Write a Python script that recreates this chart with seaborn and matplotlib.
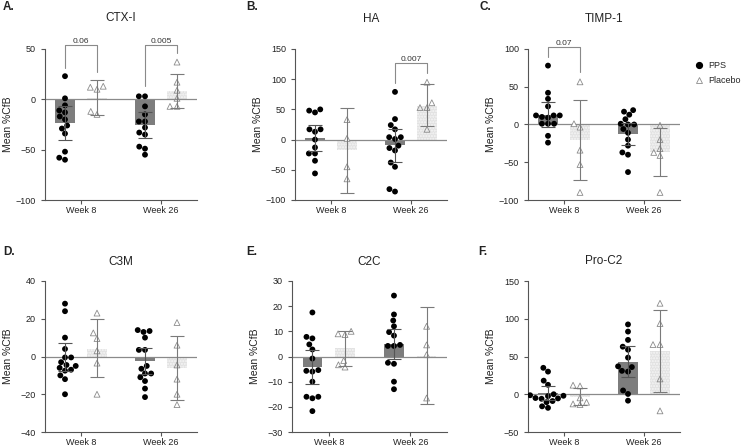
import numpy as np
import pandas as pd
import matplotlib
matplotlib.use("Agg")
import matplotlib.pyplot as plt
from matplotlib.lines import Line2D
import seaborn as sns

weeks = ["Week 8", "Week 26"]
groups = ["PPS", "Placebo"]

# A. CTX-I
ctx_pps_w8 = [23, 1, -6, -11, -13, -17, -20, -26, -29, -34, -52, -60, -58]
ctx_pla_w8 = [13, 10, 12, -12, -15]
ctx_pps_w26 = [3, 3, -7, -15, -22, -22, -28, -33, -35, -47, -49, -55]
ctx_pla_w26 = [37, 17, 9, 1, -7, -7]
ctx_mean_pps = [-24, -25.5]
ctx_mean_pla = [1.5, 8]
ctx_ci_pps = [(-40, -7), (-38, -13)]
ctx_ci_pla = [(-16, 19), (-9, 25.5)]

# B. HA
ha_pps_w8 = [48, 50, 45, 17, 17, 13, 0, -13, -23, -23, -35, -56]
ha_pla_w8 = [33, 2, -45, -65]
ha_pps_w26 = [79, 34, 24, 17, 4, 4, 1, -10, -14, -18, -38, -45, -86, -82]
ha_pla_w26 = [61, 95, 53, 53, 17]
ha_mean_pps = [2, -9]
ha_mean_pla = [-18, 55]
ha_ci_pps = [(-19, 24.5), (-37, 17)]
ha_ci_pla = [(-89, 53), (22, 92)]

# C. TIMP-1
timp_pps_w8 = [78, 42, 34, 24, 12, 12, 12, 10, 9, 1, 1, 1, -15, -24]
timp_pla_w8 = [56.5, 1, -3.5, -34, -53, -90]
timp_pps_w26 = [19, 17, 13, 7, 1, 0, 0, -6, -11, -20, -28, -40, -37, -63]
timp_pla_w26 = [-1, -20, -37, -32, -41, -90]
timp_mean_pps = [13, -12]
timp_mean_pla = [-20, -36]
timp_ci_pps = [(-3, 30), (-27, 2)]
timp_ci_pla = [(-74, 33), (-68, -5)]

# D. C3M
c3m_pps_w8 = [28, 24, 10, 4, -0.5, -0.5, -3, -5, -4.5, -7, -6, -7.5, -10, -12, -20]
c3m_pla_w8 = [23, 12.5, 9.5, 3, -3.5, -20]
c3m_pps_w26 = [13.5, 14, 13, 10, 3.5, 3.5, -5, -6.5, -9, -9, -11, -13, -17, -21.5]
c3m_pla_w26 = [18, 6, -4.5, -12, -20, -25.5]
c3m_mean_pps = [-0.3, -2.5]
c3m_mean_pla = [4, -6]
c3m_ci_pps = [(-7.5, 7), (-9.5, 4.5)]
c3m_ci_pla = [(-11, 20), (-23, 11)]

# E. C2C
c2c_pps_w8 = [17.5, 7.8, 7.2, 4.8, 2.8, -0.8, -5.7, -5.4, -6, -10, -16, -16.6, -16, -21.7]
c2c_pla_w8 = [10, 8.7, 9, -1.6, -4.2, -3.3]
c2c_pps_w26 = [24.2, 16.7, 14.3, 12, 9.7, 8.3, 4.6, 4.2, 4.2, -2.9, -2.5, -10, -13]
c2c_pla_w26 = [12, 4.6, 0.7, -16.5]
c2c_mean_pps = [-4.1, 4.8]
c2c_mean_pla = [3.2, 0.3]
c2c_ci_pps = [(-10.9, 2.4), (-0.9, 11)]
c2c_ci_pla = [(-3.8, 10.2), (-18.8, 19.6)]

# F. Pro-C2
pro_pps_w8 = [35, 30, 18, 12.5, 0, -5, -5.5, -2.5, -2, -1.3, -10.5, -9, -18, -16, -6]
pro_pla_w8 = [11, 12, -10.6, -4.8, -13.7, -12.8]
pro_pps_w26 = [92.5, 83, 72, 63, 59, 48.5, 37, 36, 31, 30, 5, 0.4, -8.5]
pro_pla_w26 = [120.5, 93.6, 65.8, 65.8, 20.3, -22]
pro_mean_pps = [1, 43]
pro_mean_pla = [-3, 57]
pro_ci_pps = [(-8, 10.5), (22.5, 64.5)]
pro_ci_pla = [(-14, 8.8), (3, 111)]

# brackets: (week index, p label, bar y, left leg end, right leg end)
ctx_brackets = [(0, "0.06", 54, 31, 27), (1, "0.005", 54, 13, 46)]
ha_brackets = [(1, "0.007", 126, 93, 110)]
timp_brackets = [(0, "0.07", 102, 90, 70)]

panels = [
    dict(letter="A.", title="CTX-I", pps=[ctx_pps_w8, ctx_pps_w26], pla=[ctx_pla_w8, ctx_pla_w26],
         mpps=ctx_mean_pps, mpla=ctx_mean_pla, cpps=ctx_ci_pps, cpla=ctx_ci_pla,
         yticks=[-100, -50, 0, 50], br=ctx_brackets),
    dict(letter="B.", title="HA", pps=[ha_pps_w8, ha_pps_w26], pla=[ha_pla_w8, ha_pla_w26],
         mpps=ha_mean_pps, mpla=ha_mean_pla, cpps=ha_ci_pps, cpla=ha_ci_pla,
         yticks=[-100, -50, 0, 50, 100, 150], br=ha_brackets),
    dict(letter="C.", title="TIMP-1", pps=[timp_pps_w8, timp_pps_w26], pla=[timp_pla_w8, timp_pla_w26],
         mpps=timp_mean_pps, mpla=timp_mean_pla, cpps=timp_ci_pps, cpla=timp_ci_pla,
         yticks=[-100, -50, 0, 50, 100], br=timp_brackets),
    dict(letter="D.", title="C3M", pps=[c3m_pps_w8, c3m_pps_w26], pla=[c3m_pla_w8, c3m_pla_w26],
         mpps=c3m_mean_pps, mpla=c3m_mean_pla, cpps=c3m_ci_pps, cpla=c3m_ci_pla,
         yticks=[-40, -20, 0, 20, 40], br=[]),
    dict(letter="E.", title="C2C", pps=[c2c_pps_w8, c2c_pps_w26], pla=[c2c_pla_w8, c2c_pla_w26],
         mpps=c2c_mean_pps, mpla=c2c_mean_pla, cpps=c2c_ci_pps, cpla=c2c_ci_pla,
         yticks=[-30, -20, -10, 0, 10, 20, 30], br=[]),
    dict(letter="F.", title="Pro-C2", pps=[pro_pps_w8, pro_pps_w26], pla=[pro_pla_w8, pro_pla_w26],
         mpps=pro_mean_pps, mpla=pro_mean_pla, cpps=pro_ci_pps, cpla=pro_ci_pla,
         yticks=[-50, 0, 50, 100, 150], br=[]),
]

# layout in pixels (750 x 448): axes left, top, right, bottom
W, H = 750, 448
boxes = [(45, 49, 197, 200), (295, 49, 447, 200), (528, 49, 680, 200),
         (45, 281, 197, 432), (292, 281, 447, 432), (528, 281, 680, 432)]
title_y = [18, 19, 19, 262, 262, 261]
letter_xy = [(3, 7), (246, 7), (480, 7), (3, 252), (246, 252), (478, 252)]

sns.set_style("ticks")
plt.rcParams["font.family"] = ["Liberation Sans", "DejaVu Sans"]
axis_col = "#555555"

fig = plt.figure(figsize=(7.5, 4.48), dpi=100)

for p, (l, t, r, b), ty, (lx, ly) in zip(panels, boxes, title_y, letter_xy):
    ax = fig.add_axes([l / W, 1 - b / H, (r - l) / W, (b - t) / H])

    rows = []
    for wi, wk in enumerate(weeks):
        rows += [(wk, "PPS", v) for v in p["pps"][wi]]
        rows += [(wk, "Placebo", v) for v in p["pla"][wi]]
    pts = pd.DataFrame(rows, columns=["week", "group", "value"])
    bars = pd.DataFrame({"week": weeks * 2, "group": ["PPS"] * 2 + ["Placebo"] * 2,
                         "value": list(p["mpps"]) + list(p["mpla"])})

    sns.barplot(data=bars, x="week", y="value", hue="group", order=weeks, hue_order=groups,
                palette={"PPS": "#7d7d7d", "Placebo": "#e2e2e2"}, width=0.8, gap=0.4,
                errorbar=None, legend=False, linewidth=0, ax=ax, zorder=1)
    for patch in ax.patches:
        if patch.get_facecolor()[0] > 0.8:
            patch.set_hatch("......")
            patch.set_edgecolor("#f6f6f6")

    ax.axhline(0, color="#8a8a8a", lw=0.9, zorder=1.5)

    sns.swarmplot(data=pts[pts.group == "PPS"], x="week", y="value", hue="group",
                  order=weeks, hue_order=groups, dodge=True,
                  palette={"PPS": "black", "Placebo": "white"}, size=4.2,
                  legend=False, ax=ax, zorder=3)
    sns.swarmplot(data=pts[pts.group == "Placebo"], x="week", y="value", hue="group",
                  order=weeks, hue_order=groups, dodge=True, marker="^",
                  palette={"PPS": "black", "Placebo": "white"}, size=4.2,
                  linewidth=0.6, edgecolor="#8c8c8c", legend=False, ax=ax, zorder=3)
    ax.collections[-1].set_facecolor("none")

    for gi, (means, cis, col) in enumerate([(p["mpps"], p["cpps"], "#555555"),
                                            (p["mpla"], p["cpla"], "#7a7a7a")]):
        xs = np.arange(len(weeks)) + (-0.2 if gi == 0 else 0.2)
        lo = [m - c[0] for m, c in zip(means, cis)]
        hi = [c[1] - m for m, c in zip(means, cis)]
        ax.errorbar(xs, means, yerr=[lo, hi], fmt="none", ecolor=col,
                    elinewidth=0.8, capsize=5, capthick=0.8, zorder=4)

    for wi, lab, yb, yl, yr in p["br"]:
        ax.plot([wi - 0.2, wi - 0.2, wi + 0.2, wi + 0.2], [yl, yb, yb, yr],
                color="#8a8a8a", lw=0.8, clip_on=False, zorder=4)
        ax.text(wi, yb, lab, ha="center", va="bottom", fontsize=6, color="#333333")

    ax.set_xlim(-0.45, 1.45)
    ax.set_ylim(p["yticks"][0], p["yticks"][-1])
    ax.set_yticks(p["yticks"])
    ax.set_xlabel("")
    ax.set_ylabel("Mean %CfB", fontsize=7.5, color="#222222")
    ax.yaxis.set_label_coords(-32 / (r - l), 0.5)
    sns.despine(ax=ax)
    for s in ["left", "bottom"]:
        ax.spines[s].set_color(axis_col)
        ax.spines[s].set_linewidth(0.8)
    ax.tick_params(colors=axis_col, labelcolor="#222222", labelsize=6.5, length=3, width=0.8)
    ax.tick_params(axis="x", pad=1.5)

    fig.text(((l + r) / 2) / W, 1 - ty / H, p["title"], ha="center", va="center",
             fontsize=8.5, color="#222222")
    fig.text(lx / W, 1 - ly / H, p["letter"], ha="left", va="center",
             fontsize=8.5, fontweight="bold", color="#222222")

handles = [Line2D([], [], ls="none", marker="o", ms=4.2, color="black"),
           Line2D([], [], ls="none", marker="^", ms=4.5, mfc="none", mec="#8c8c8c", mew=0.6)]
fig.legend(handles, groups, loc="center left", bbox_to_anchor=(686 / W, 1 - 73 / H),
           frameon=False, fontsize=6.5, handlelength=1, handletextpad=0.6, labelspacing=0.6)

fig.savefig("out.png", dpi=100)
